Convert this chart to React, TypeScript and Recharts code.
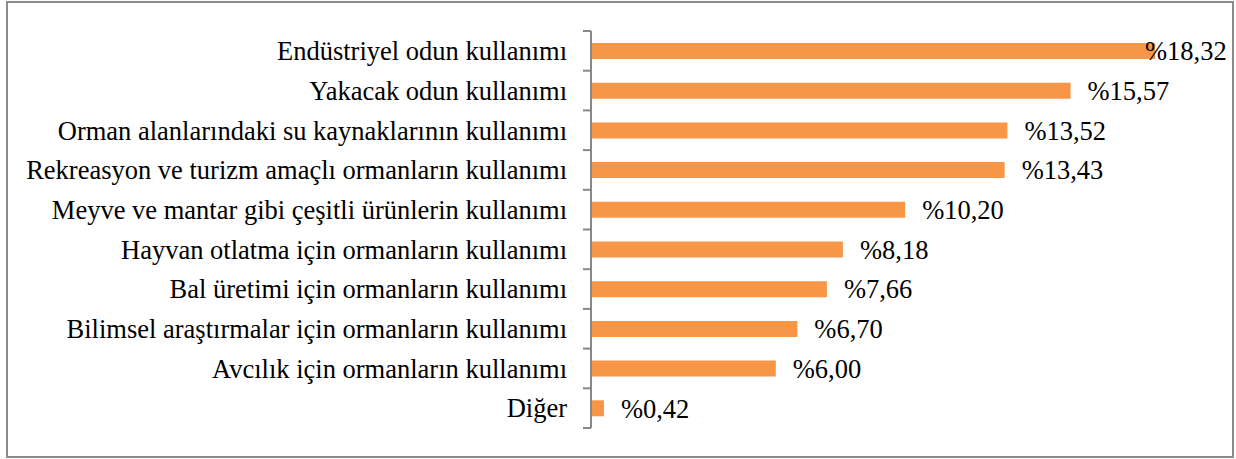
import React from "react";
import { BarChart, Bar, XAxis, YAxis, LabelList } from "recharts";

const categories = [
  "Endüstriyel odun kullanımı",
  "Yakacak odun kullanımı ",
  "Orman alanlarındaki su kaynaklarının kullanımı",
  "Rekreasyon ve turizm amaçlı ormanların kullanımı",
  "Meyve ve mantar gibi çeşitli ürünlerin kullanımı",
  "Hayvan otlatma için ormanların kullanımı",
  "Bal üretimi için ormanların kullanımı",
  "Bilimsel araştırmalar için ormanların kullanımı",
  "Avcılık için ormanların kullanımı",
  "Diğer",
];
const values = [18.32, 15.57, 13.52, 13.43, 10.2, 8.18, 7.66, 6.7, 6.0, 0.42];
const valueLabels = ["%18,32", "%15,57", "%13,52", "%13,43", "%10,20", "%8,18", "%7,66", "%6,70", "%6,00", "%0,42"];

const data = categories.map((c, i) => ({ name: c, value: values[i], label: valueLabels[i] }));

const W = 1236;
const H = 459;
const TOP = 31;
const BOTTOM = 31;
const AXIS_X = 591;
const BAND = (H - TOP - BOTTOM) / categories.length;
const FONT = "Liberation Serif";
const FS = 26.5;
const GRAY = "#878787";

const CategoryTick = (props: any) => {
  const { y, payload, index } = props;
  const last = index === categories.length - 1;
  return (
    <g>
      <line x1={AXIS_X - 8} x2={AXIS_X} y1={y - BAND / 2} y2={y - BAND / 2} stroke={GRAY} strokeWidth={2} />
      {last && (
        <line x1={AXIS_X - 8} x2={AXIS_X} y1={y + BAND / 2} y2={y + BAND / 2} stroke={GRAY} strokeWidth={2} />
      )}
      <text
        x={AXIS_X - 24}
        y={y}
        dy="0.35em"
        textAnchor="end"
        fill="#000"
        fontFamily={FONT}
        fontSize={FS}
      >
        {payload.value}
      </text>
    </g>
  );
};

const ValueLabel = (props: any) => {
  const { x, y, width, height, index } = props;
  const lx = Math.min(x + width + 17, 1145);
  return (
    <text x={lx} y={y + height / 2} dy="0.35em" fill="#000" fontFamily={FONT} fontSize={FS}>
      {valueLabels[index]}
    </text>
  );
};

export default function App() {
  return (
    <div style={{ position: "absolute", left: 0, top: 0, width: W, height: H, background: "#fff" }}>
      <div
        style={{
          position: "absolute",
          left: 6,
          top: 1,
          width: 1224,
          height: 453,
          border: "2px solid #8c8c8c",
        }}
      />
      <div style={{ position: "absolute", left: 0, top: 0 }}>
        <BarChart
          width={W}
          height={H}
          data={data}
          layout="vertical"
          margin={{ top: TOP, bottom: BOTTOM, left: 0, right: 29 }}
          barSize={16}
        >
          <XAxis type="number" domain={[0, 20]} hide />
          <YAxis
            type="category"
            dataKey="name"
            width={AXIS_X}
            axisLine={{ stroke: GRAY, strokeWidth: 2 }}
            tickLine={false}
            tick={<CategoryTick />}
            interval={0}
          />
          <Bar dataKey="value" fill="#F79646" isAnimationActive={false}>
            <LabelList dataKey="label" content={<ValueLabel />} />
          </Bar>
        </BarChart>
      </div>
    </div>
  );
}
